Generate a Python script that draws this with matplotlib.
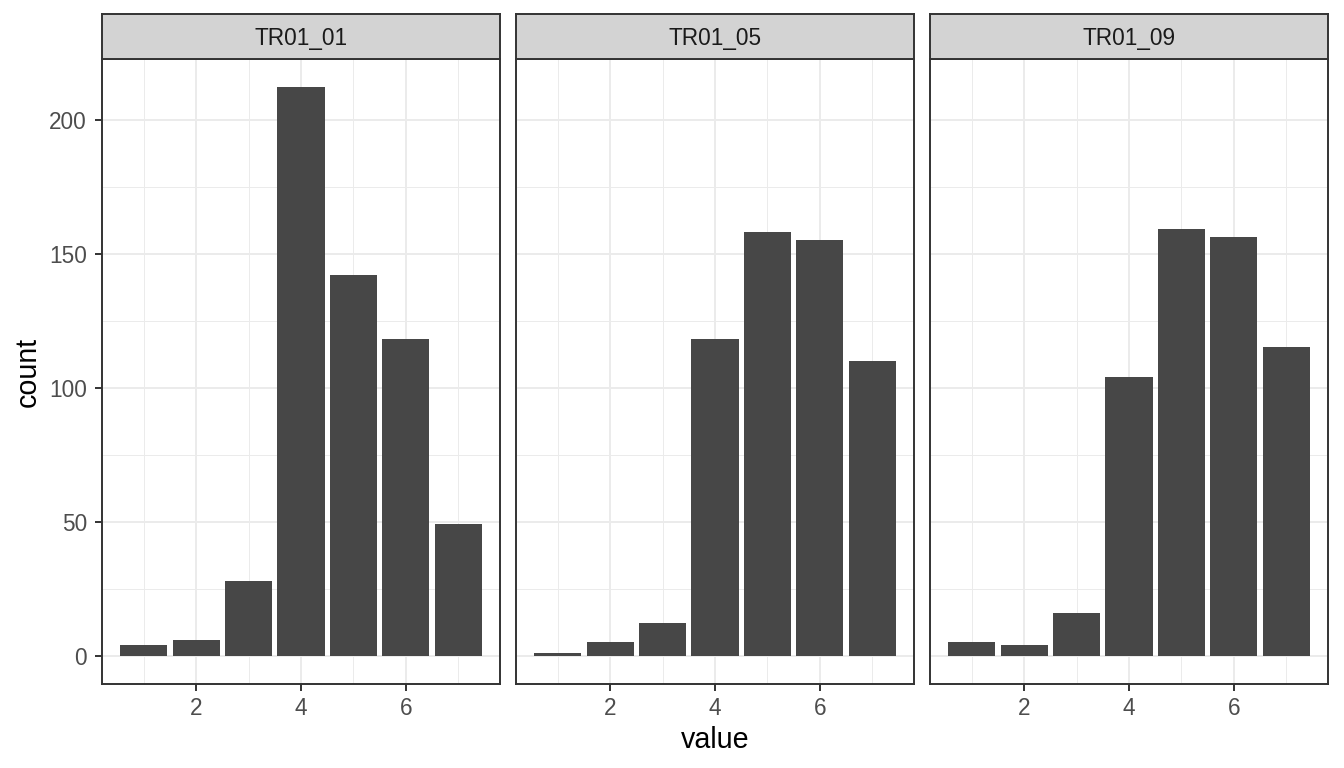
import matplotlib
matplotlib.use("Agg")
import matplotlib.pyplot as plt
from matplotlib.ticker import MultipleLocator

plt.rcParams["font.family"] = ["Liberation Sans", "DejaVu Sans"]

panels = ["TR01_01", "TR01_05", "TR01_09"]
values = [1, 2, 3, 4, 5, 6, 7]
counts_01 = [4, 6, 28, 212, 142, 118, 49]
counts_05 = [1, 5, 12, 118, 158, 155, 110]
counts_09 = [5, 4, 16, 104, 159, 156, 115]
all_counts = [counts_01, counts_05, counts_09]

W, H = 1344, 768
fig = plt.figure(figsize=(W / 100, H / 100), dpi=100)
fig.patch.set_facecolor("white")

lefts = [102, 516, 930]
pw = 398
top, bottom = 59, 684
strip_h = 45

ymax = max(max(c) for c in all_counts)
for i, (name, counts) in enumerate(zip(panels, all_counts)):
    ax = fig.add_axes([lefts[i] / W, (H - bottom) / H, pw / W, (bottom - top) / H])
    ax.set_facecolor("white")
    ax.bar(values, counts, width=0.9, color="#474747", zorder=3)
    ax.set_xlim(0.205, 7.795)
    ax.set_ylim(-0.05 * ymax, 1.05 * ymax)
    ax.xaxis.set_major_locator(MultipleLocator(2))
    ax.xaxis.set_minor_locator(MultipleLocator(1))
    ax.yaxis.set_major_locator(MultipleLocator(50))
    ax.yaxis.set_minor_locator(MultipleLocator(25))
    ax.grid(which="major", color="#EBEBEB", linewidth=1.4, zorder=0)
    ax.grid(which="minor", color="#EBEBEB", linewidth=0.7, zorder=0)
    ax.set_axisbelow(True)
    for s in ax.spines.values():
        s.set_color("#333333")
        s.set_linewidth(1.4)
        s.set_zorder(5)
    ax.tick_params(which="minor", length=0)
    ax.tick_params(which="major", length=5, width=1.4, color="#333333",
                   labelcolor="#4D4D4D", labelsize=16.3)
    ax.tick_params(axis="x", pad=4.3)
    ax.tick_params(axis="y", pad=5.8)
    if i != 0:
        ax.tick_params(axis="y", which="major", length=0, labelleft=False)
    # strip
    sax = fig.add_axes([lefts[i] / W, (H - top) / H, pw / W, strip_h / H])
    sax.set_xlim(0, 1)
    sax.set_ylim(0, 1)
    sax.set_facecolor("#D3D3D3")
    sax.set_xticks([])
    sax.set_yticks([])
    for s in sax.spines.values():
        s.set_color("#333333")
        s.set_linewidth(1.4)
    sax.text(0.5, 0.5, name, ha="center", va="center_baseline",
             fontsize=16.3, color="#1A1A1A")

fig.text(35.5 / W, (H - (top + bottom) / 2) / H, "count", rotation=90,
         rotation_mode="anchor", ha="center", va="baseline",
         fontsize=20.6, color="black")
fig.text((516 + pw / 2) / W, (H - 748) / H, "value", ha="center",
         va="baseline", fontsize=20.6, color="black")

fig.savefig("out.png", dpi=100, facecolor="white")
